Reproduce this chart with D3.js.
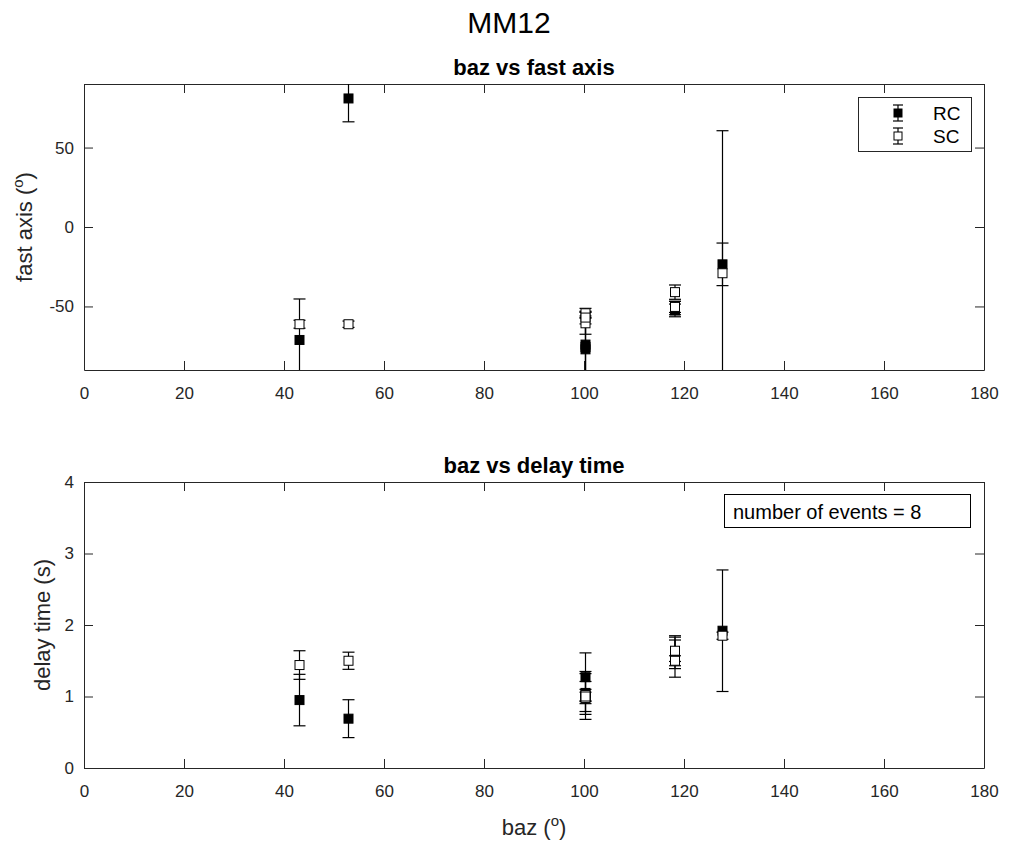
<!DOCTYPE html>
<html>
<head>
<meta charset="utf-8">
<script src="https://cdn.jsdelivr.net/npm/d3@7"></script>
<style>
  body { margin: 0; background: #fff; }
  svg { font-family: "Liberation Sans", Arial, sans-serif; }
  .axis path, .axis line { stroke: #262626; }
  .axis text { fill: #262626; font-size: 17px; }
</style>
</head>
<body>
<svg id="chart" width="1011" height="848"></svg>
<script>
// back azimuth of each event (deg)
const baz = [43.1, 52.9, 100.3, 100.3, 100.3, 118.2, 118.2, 127.7];
// fast axis (deg) and its error
const rcFast = [-71.1, 80.9, -74, -77, -75.5, -51, -52.5, -23.5];
const rcFastErr = [25.8, 14.7, 18, 20, 22, 4.2, 4, 13.4];
const scFast = [-61.2, -61.2, -54.3, -60.6, -57, -41, -50.3, -29.1];
const scFastErr = [2.5, 2, 3.1, 6.9, 4, 4.5, 3.5, 89.7];
// delay time (s) and its error
const rcDt = [0.95, 0.69, 1.27, 1.0, 1.05, 1.62, 1.55, 1.92];
const rcDtErr = [0.36, 0.265, 0.34, 0.32, 0.3, 0.23, 0.28, 0.85];
const scDt = [1.44, 1.5, 1.02, 0.98, 1.0, 1.64, 1.5, 1.85];
const scDtErr = [0.2, 0.12, 0.08, 0.08, 0.21, 0.15, 0.07, 0.05];

const xTicks = [0, 20, 40, 60, 80, 100, 120, 140, 160, 180];
const fastTicks = [-50, 0, 50];
const dtTicks = [0, 1, 2, 3, 4];

const svg = d3.select("#chart");
const left = 84, right = 984;
const tickLen = 9;

const x = d3.scaleLinear().domain([0, 180]).range([left, right]);

svg.append("text")
  .attr("x", 509).attr("y", 33)
  .attr("text-anchor", "middle")
  .attr("font-size", 30)
  .attr("fill", "#000")
  .text("MM12");

function panel(id, top, bottom, yDomain, yTicks, title, rc, rcErr, sc, scErr, ylabel, ylabelX) {
  const y = d3.scaleLinear().domain(yDomain).range([bottom, top]);
  const g = svg.append("g");

  g.append("defs").append("clipPath").attr("id", id)
    .append("rect").attr("x", left).attr("y", top)
    .attr("width", right - left).attr("height", bottom - top);

  g.append("g").attr("class", "axis")
    .attr("transform", `translate(0,${bottom})`)
    .call(d3.axisBottom(x).tickValues(xTicks).tickSizeInner(-tickLen).tickSizeOuter(0).tickPadding(17));
  g.append("g").attr("class", "axis")
    .attr("transform", `translate(0,${top})`)
    .call(d3.axisTop(x).tickValues(xTicks).tickSizeInner(-tickLen).tickSizeOuter(0).tickFormat(""));
  g.append("g").attr("class", "axis")
    .attr("transform", `translate(${left},0)`)
    .call(d3.axisLeft(y).tickValues(yTicks).tickSizeInner(-tickLen).tickSizeOuter(0)
      .tickPadding(10).tickFormat(d => String(d)));
  g.append("g").attr("class", "axis")
    .attr("transform", `translate(${right},0)`)
    .call(d3.axisRight(y).tickValues(yTicks).tickSizeInner(-tickLen).tickSizeOuter(0).tickFormat(""));
  g.selectAll(".axis text").attr("font-family", "Liberation Sans, Arial, sans-serif");

  g.append("text")
    .attr("x", (left + right) / 2).attr("y", top - 9)
    .attr("text-anchor", "middle")
    .attr("font-size", 22).attr("font-weight", "bold")
    .attr("fill", "#000")
    .text(title);

  const yl = g.append("text")
    .attr("transform", `translate(${ylabelX},${(top + bottom) / 2}) rotate(-90)`)
    .attr("text-anchor", "middle")
    .attr("font-size", 22).attr("fill", "#262626");
  yl.text(ylabel[0]);
  if (ylabel[1]) {
    yl.append("tspan").attr("font-size", 15).attr("dy", -9).text(ylabel[1]);
    yl.append("tspan").attr("dy", 9).text(ylabel[2]);
  }

  const plot = g.append("g").attr("clip-path", `url(#${id})`);

  function series(vals, errs, filled) {
    const s = plot.append("g");
    const idx = d3.range(vals.length);
    s.selectAll(".bar").data(idx).join("line")
      .attr("x1", i => x(baz[i])).attr("x2", i => x(baz[i]))
      .attr("y1", i => y(vals[i] - errs[i])).attr("y2", i => y(vals[i] + errs[i]))
      .attr("stroke", "#000").attr("stroke-width", 1.2);
    [-1, 1].forEach(sgn => {
      s.selectAll(".cap" + sgn).data(idx).join("line")
        .attr("x1", i => x(baz[i]) - 6).attr("x2", i => x(baz[i]) + 6)
        .attr("y1", i => y(vals[i] + sgn * errs[i])).attr("y2", i => y(vals[i] + sgn * errs[i]))
        .attr("stroke", "#000").attr("stroke-width", 1.2);
    });
    s.selectAll("rect").data(idx).join("rect")
      .attr("x", i => x(baz[i]) - 4.5).attr("y", i => y(vals[i]) - 4.5)
      .attr("width", 9).attr("height", 9)
      .attr("fill", filled ? "#000" : "#fff")
      .attr("stroke", "#000").attr("stroke-width", 1);
  }
  series(rc, rcErr, true);
  series(sc, scErr, false);
  return g;
}

panel("clipTop", 84, 370, [-90, 90], fastTicks, "baz vs fast axis",
  rcFast, rcFastErr, scFast, scFastErr, ["fast axis (", "o", ")"], 32);
panel("clipBot", 482, 768, [0, 4], dtTicks, "baz vs delay time",
  rcDt, rcDtErr, scDt, scDtErr, ["delay time (s)"], 50);

// legend
const leg = svg.append("g");
leg.append("rect").attr("x", 858.5).attr("y", 97.5).attr("width", 113).attr("height", 54)
  .attr("fill", "#fff").attr("stroke", "#262626").attr("stroke-width", 1);
[["RC", true, 113], ["SC", false, 136]].forEach(([name, filled, cy]) => {
  const mx = 898;
  leg.append("line").attr("x1", mx).attr("x2", mx).attr("y1", cy - 8).attr("y2", cy + 8)
    .attr("stroke", "#000").attr("stroke-width", 1.2);
  [-8, 8].forEach(d => leg.append("line").attr("x1", mx - 5).attr("x2", mx + 5)
    .attr("y1", cy + d).attr("y2", cy + d).attr("stroke", "#000").attr("stroke-width", 1.2));
  leg.append("rect").attr("x", mx - 4).attr("y", cy - 4).attr("width", 8).attr("height", 8)
    .attr("fill", filled ? "#000" : "#fff").attr("stroke", "#000");
  leg.append("text").attr("x", 933).attr("y", cy + 7).attr("font-size", 19).attr("fill", "#000").text(name);
});

// annotation box
svg.append("rect").attr("x", 724.5).attr("y", 494.5).attr("width", 246).attr("height", 33)
  .attr("fill", "#fff").attr("stroke", "#000").attr("stroke-width", 1);
svg.append("text").attr("x", 733).attr("y", 519).attr("font-size", 20).attr("fill", "#000")
  .text("number of events = 8");

// x label
const xl = svg.append("text").attr("x", 534).attr("y", 835).attr("text-anchor", "middle")
  .attr("font-size", 22).attr("fill", "#262626").text("baz (");
xl.append("tspan").attr("font-size", 15).attr("dy", -9).text("o");
xl.append("tspan").attr("dy", 9).text(")");
</script>
</body>
</html>
